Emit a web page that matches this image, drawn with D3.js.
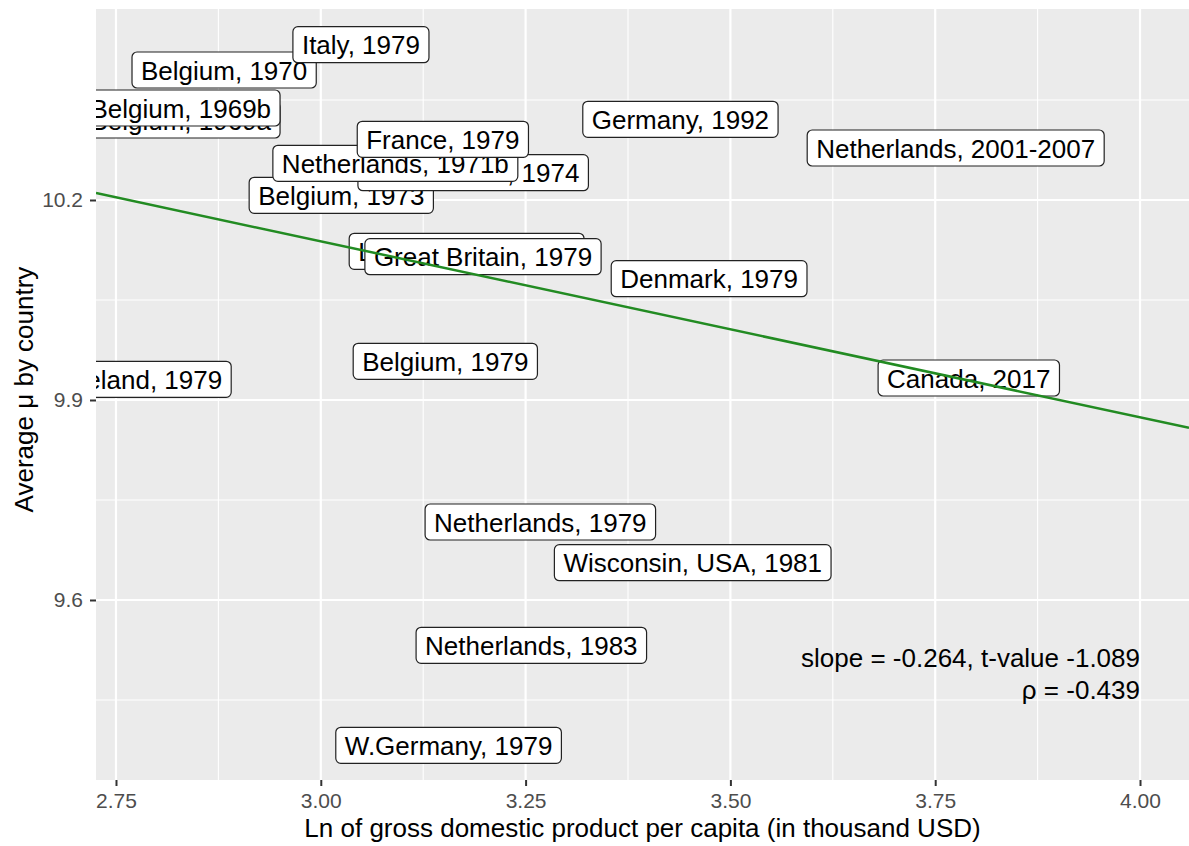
<!DOCTYPE html>
<html>
<head>
<meta charset="utf-8">
<script src="https://cdn.jsdelivr.net/npm/d3@7"></script>
<style>
  body { margin: 0; background: #fff; }
  text { font-family: "Liberation Sans", Arial, Helvetica, sans-serif; }
</style>
</head>
<body>
<script>
// data, in drawing order (later rows sit on top)
var labels = [
    "Belgium, 1970", "Italy, 1979", "Belgium, 1969a", "Belgium, 1969b",
    "Germany, 1992", "Netherlands, 2001-2007",
    "Belgium, 1973", "Netherlands, 1974", "Netherlands, 1971b", "France, 1979",
    "Luxembourg, 1979", "Great Britain, 1979", "Denmark, 1979",
    "Belgium, 1979", "Ireland, 1979", "Canada, 2017",
    "Netherlands, 1979", "Wisconsin, USA, 1981", "Netherlands, 1983", "W.Germany, 1979"
];
var lnGdp = [
    2.882, 3.049, 2.829, 2.829,
    3.439, 3.775,
    3.025, 3.186, 3.091, 3.149,
    3.178, 3.198, 3.474,
    3.152, 2.787, 3.791,
    3.268, 3.454, 3.257, 3.156
];
var avgMu = [
    10.395, 10.433, 10.320, 10.338,
    10.321, 10.278,
    10.207, 10.241, 10.255, 10.291,
    10.123, 10.115, 10.082,
    9.958, 9.931, 9.933,
    9.717, 9.656, 9.532, 9.382
];

var xTicks = [2.75, 3.00, 3.25, 3.50, 3.75, 4.00];
var xMinor = [2.875, 3.125, 3.375, 3.625, 3.875];
var yTicks = [9.6, 9.9, 10.2];
var yMinor = [9.45, 9.75, 10.05, 10.35];

// fitted line and its caption
var regSlope = -0.264, regIntercept = 10.93;
var statLines = ["slope = -0.264, t-value -1.089", "\u03c1 = -0.439"];

var xTitle = "Ln of gross domestic product per capita (in thousand USD)";
var yTitle = "Average \u03bc by country";

var w = 1189, h = 846;
var margin = {top: 9, right: 0, bottom: 66, left: 96};
var pw = w - margin.left - margin.right,
    ph = h - margin.top - margin.bottom;

var x = d3.scaleLinear().domain([2.7256, 4.0598]).range([0, pw]);
var y = d3.scaleLinear().domain([9.33, 10.4865]).range([ph, 0]);

var svg = d3.select("body").append("svg")
    .attr("width", w)
    .attr("height", h);

svg.append("defs").append("clipPath")
    .attr("id", "panel")
    .append("rect")
    .attr("width", pw)
    .attr("height", ph);

var g = svg.append("g")
    .attr("transform", "translate(" + margin.left + "," + margin.top + ")");

g.append("rect")
    .attr("width", pw)
    .attr("height", ph)
    .attr("fill", "#EBEBEB");

// grid
g.append("g").selectAll("line").data(xMinor).enter().append("line")
    .attr("x1", d => x(d)).attr("x2", d => x(d))
    .attr("y1", 0).attr("y2", ph)
    .attr("stroke", "#fff").attr("stroke-width", 1.1);
g.append("g").selectAll("line").data(yMinor).enter().append("line")
    .attr("y1", d => y(d)).attr("y2", d => y(d))
    .attr("x1", 0).attr("x2", pw)
    .attr("stroke", "#fff").attr("stroke-width", 1.1);
g.append("g").selectAll("line").data(xTicks).enter().append("line")
    .attr("x1", d => x(d)).attr("x2", d => x(d))
    .attr("y1", 0).attr("y2", ph)
    .attr("stroke", "#fff").attr("stroke-width", 2.2);
g.append("g").selectAll("line").data(yTicks).enter().append("line")
    .attr("y1", d => y(d)).attr("y2", d => y(d))
    .attr("x1", 0).attr("x2", pw)
    .attr("stroke", "#fff").attr("stroke-width", 2.2);

// labels
var plot = g.append("g").attr("clip-path", "url(#panel)");
var pad = 9, boxH = 36;

labels.forEach(function(lab, i) {
    var cx = x(lnGdp[i]), cy = y(avgMu[i]);
    var lg = plot.append("g");
    var rect = lg.append("rect");
    var t = lg.append("text")
        .attr("x", cx)
        .attr("y", cy + 9.5)
        .attr("text-anchor", "middle")
        .attr("font-size", "26px")
        .attr("fill", "#000")
        .text(lab);
    var tw = t.node().getComputedTextLength();
    rect.attr("x", cx - tw / 2 - pad)
        .attr("y", cy - boxH / 2)
        .attr("width", tw + 2 * pad)
        .attr("height", boxH)
        .attr("rx", 5).attr("ry", 5)
        .attr("fill", "#fff")
        .attr("stroke", "#222")
        .attr("stroke-width", 1.2);
});

// regression line
plot.append("line")
    .attr("x1", x(x.domain()[0]))
    .attr("y1", y(regIntercept + regSlope * x.domain()[0]))
    .attr("x2", x(x.domain()[1]))
    .attr("y2", y(regIntercept + regSlope * x.domain()[1]))
    .attr("stroke", "#228B22")
    .attr("stroke-width", 2.5);

// stats caption
g.append("g").selectAll("text").data(statLines).enter().append("text")
    .attr("x", x(4.0))
    .attr("y", (d, i) => y(9.5) + i * 32)
    .attr("text-anchor", "end")
    .attr("font-size", "26px")
    .attr("fill", "#000")
    .text(d => d);

// axes
var xAxis = g.append("g")
    .attr("transform", "translate(0," + ph + ")")
    .call(d3.axisBottom(x).tickValues(xTicks).tickFormat(d3.format(".2f"))
        .tickSize(6).tickPadding(7));
var yAxis = g.append("g")
    .call(d3.axisLeft(y).tickValues(yTicks).tickFormat(d3.format(".1f"))
        .tickSize(6).tickPadding(7));

[xAxis, yAxis].forEach(function(a) {
    a.select(".domain").remove();
    a.selectAll(".tick line").attr("stroke", "#333").attr("stroke-width", 2);
    a.selectAll(".tick text")
        .attr("fill", "#4D4D4D")
        .attr("font-size", "21px")
        .attr("font-family", "\"Liberation Sans\", Arial, sans-serif");
});

svg.append("text")
    .attr("x", margin.left + pw / 2)
    .attr("y", 837)
    .attr("text-anchor", "middle")
    .attr("font-size", "26px")
    .attr("fill", "#000")
    .text(xTitle);

svg.append("text")
    .attr("transform", "translate(33," + (margin.top + ph / 2 - 5) + ") rotate(-90)")
    .attr("text-anchor", "middle")
    .attr("font-size", "26px")
    .attr("fill", "#000")
    .text(yTitle);
</script>
</body>
</html>
